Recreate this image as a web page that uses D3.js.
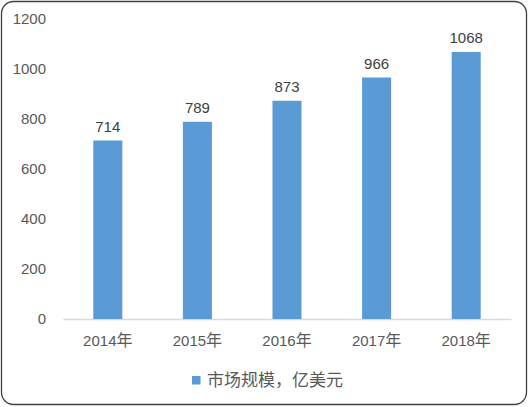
<!DOCTYPE html>
<html>
<head>
<meta charset="utf-8">
<script src="https://cdn.jsdelivr.net/npm/d3@7"></script>
<style>
  body { margin: 0; background: #fff; }
  svg { display: block; }
</style>
</head>
<body>
<svg id="chart" width="529" height="407"></svg>
<script>
   // chart values
   var years = ["2014年", "2015年", "2016年", "2017年", "2018年"];
   var marketSize = [714, 789, 873, 966, 1068];
   var yTicks = [0, 200, 400, 600, 800, 1000, 1200];
   var legendLabel = "市场规模，亿美元";

   var svg = d3.select("#chart");
   var numFont = "'Liberation Sans', Arial, sans-serif";
   var cjkFont = "'Noto Sans CJK SC', sans-serif";

   // outer frame
   svg.append("rect")
      .attr("x", 1.5).attr("y", 1.5)
      .attr("width", 525).attr("height", 403)
      .attr("rx", 12).attr("ry", 12)
      .attr("fill", "#fff")
      .attr("stroke", "#404040")
      .attr("stroke-width", 1.3);

   var x = d3.scaleBand()
      .domain(years)
      .range([63, 511])
      .paddingInner(0.676)
      .paddingOuter(0.338);

   var y = d3.scaleLinear()
      .domain([0, 1200])
      .range([319, 19]);

   // y axis labels
   var yAxis = d3.axisLeft(y).tickValues(yTicks).tickFormat(d3.format("d"))
      .tickSize(0).tickPadding(0);
   var gy = svg.append("g")
      .attr("transform", "translate(46,0)")
      .call(yAxis);
   gy.select(".domain").remove();
   gy.selectAll("text")
      .attr("fill", "#595959")
      .style("font-family", numFont)
      .style("font-size", "15px");

   // x axis
   var xAxis = d3.axisBottom(x).tickSize(0).tickPadding(16);
   var gx = svg.append("g")
      .attr("transform", "translate(0," + y(0) + ")")
      .call(xAxis);
   gx.select(".domain")
      .attr("stroke", "#D9D9D9")
      .attr("stroke-width", 1.3);
   gx.selectAll("text")
      .attr("fill", "#595959")
      .style("font-family", numFont)
      .style("font-size", "15px")
      .each(function(d) {
         // digits in the latin font, the 年 in the CJK font
         var t = d3.select(this).text("");
         t.append("tspan").text(d.slice(0, -1));
         t.append("tspan")
            .style("font-family", cjkFont)
            .style("font-size", "16px")
            .text(d.slice(-1));
      });

   // bars
   svg.selectAll("rect.bar")
      .data(marketSize)
      .enter()
      .append("rect")
      .attr("class", "bar")
      .attr("x", function(d, i) { return x(years[i]); })
      .attr("y", function(d) { return y(d); })
      .attr("width", x.bandwidth())
      .attr("height", function(d) { return y(0) - y(d); })
      .attr("fill", "#5B9BD5");

   // value labels
   svg.selectAll("text.val")
      .data(marketSize)
      .enter()
      .append("text")
      .attr("class", "val")
      .attr("x", function(d, i) { return x(years[i]) + x.bandwidth() / 2; })
      .attr("y", function(d) { return y(d) - 9; })
      .attr("text-anchor", "middle")
      .attr("fill", "#404040")
      .style("font-family", numFont)
      .style("font-size", "15px")
      .text(function(d) { return d; });

   // legend
   var legend = svg.append("g").attr("transform", "translate(192,376)");
   legend.append("rect")
      .attr("width", 8.5).attr("height", 8.5)
      .attr("fill", "#5B9BD5");
   legend.append("text")
      .attr("x", 15).attr("y", 9.5)
      .attr("fill", "#595959")
      .style("font-family", cjkFont)
      .style("font-size", "17px")
      .text(legendLabel);
</script>
</body>
</html>
